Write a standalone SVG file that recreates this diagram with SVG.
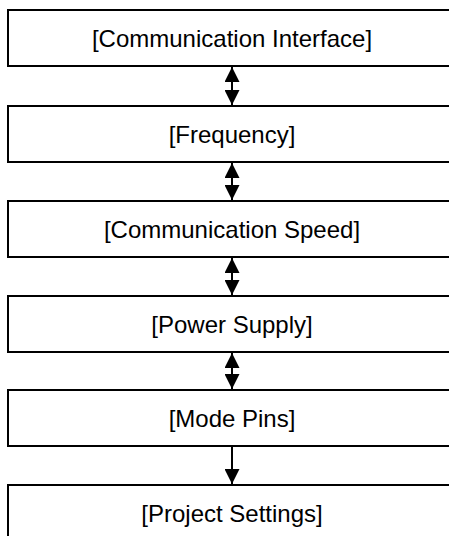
<svg xmlns="http://www.w3.org/2000/svg" width="449" height="536" viewBox="0 0 449 536">
  <style>
    .box { fill: #ffffff; stroke: #000000; stroke-width: 2; }
    .lbl { font-family: "Liberation Sans", Arial, sans-serif; font-size: 24px; fill: #000000; text-anchor: middle; }
    .conn { stroke: #000000; stroke-width: 2; fill: none; }
  </style>
  <defs>
    <marker id="ah" viewBox="0 0 15 15" refX="15" refY="7.5" markerWidth="15" markerHeight="15" markerUnits="userSpaceOnUse" orient="auto-start-reverse">
      <path d="M0,0 L15,7.5 L0,15 z" fill="#000000"/>
    </marker>
  </defs>
  <rect width="449" height="536" fill="#ffffff"/>
  <g id="n1">
    <rect class="box" x="8" y="10" width="450" height="56"/>
    <text class="lbl" x="232" y="46.6">[Communication Interface]</text>
  </g>
  <g id="n2">
    <rect class="box" x="8" y="106" width="450" height="56"/>
    <text class="lbl" x="232" y="142.6">[Frequency]</text>
  </g>
  <g id="n3">
    <rect class="box" x="8" y="201" width="450" height="56"/>
    <text class="lbl" x="232" y="237.6">[Communication Speed]</text>
  </g>
  <g id="n4">
    <rect class="box" x="8" y="296" width="450" height="56"/>
    <text class="lbl" x="232" y="332.6">[Power Supply]</text>
  </g>
  <g id="n5">
    <rect class="box" x="8" y="390" width="450" height="56"/>
    <text class="lbl" x="232" y="426.6">[Mode Pins]</text>
  </g>
  <g id="n6">
    <rect class="box" x="8" y="485" width="450" height="60"/>
    <text class="lbl" x="232" y="521.6">[Project Settings]</text>
  </g>
  <g id="connectors">
    <line class="conn" x1="232" y1="67" x2="232" y2="105" marker-start="url(#ah)" marker-end="url(#ah)"/>
    <line class="conn" x1="232" y1="163" x2="232" y2="200" marker-start="url(#ah)" marker-end="url(#ah)"/>
    <line class="conn" x1="232" y1="258" x2="232" y2="295" marker-start="url(#ah)" marker-end="url(#ah)"/>
    <line class="conn" x1="232" y1="353" x2="232" y2="389" marker-start="url(#ah)" marker-end="url(#ah)"/>
    <line class="conn" x1="232" y1="447" x2="232" y2="484" marker-end="url(#ah)"/>
  </g>
</svg>
